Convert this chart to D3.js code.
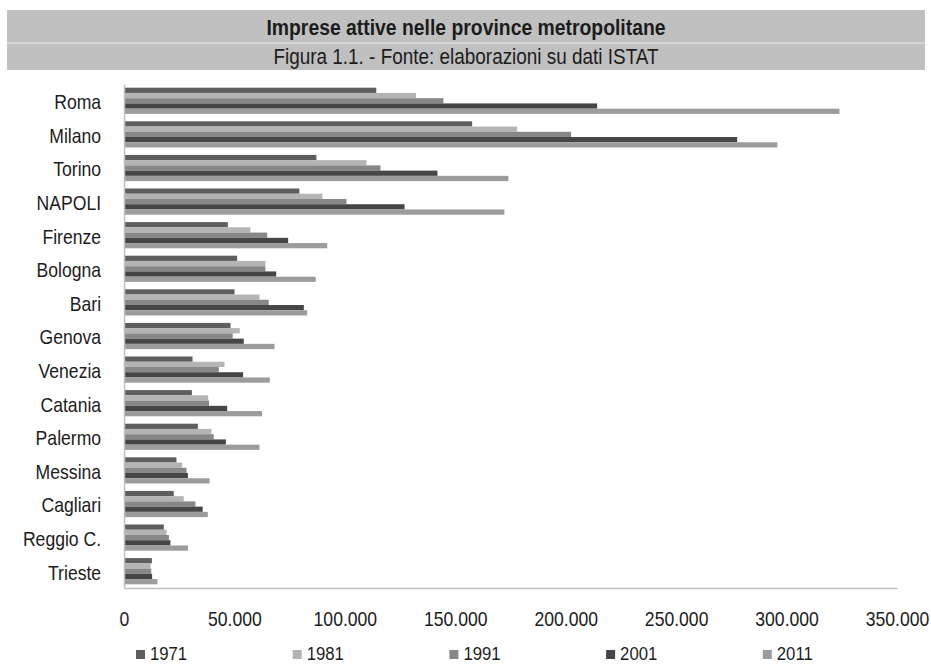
<!DOCTYPE html>
<html>
<head>
<meta charset="utf-8">
<script src="https://cdn.jsdelivr.net/npm/d3@7"></script>
<style>
html,body{margin:0;padding:0;background:#fff;}
svg text{font-family:"Liberation Sans",Arial,sans-serif;fill:#1c1c1c;}
</style>
</head>
<body>
<svg id="chart" width="931" height="664"></svg>
<script>
const categories = ["Roma","Milano","Torino","NAPOLI","Firenze","Bologna","Bari","Genova","Venezia","Catania","Palermo","Messina","Cagliari","Reggio C.","Trieste"];
const years = ["1971","1981","1991","2001","2011"];
const v1971 = [114000,157400,86900,79200,46800,51000,49800,48000,30800,30500,33200,23500,22300,17800,12400];
const v1981 = [132000,177800,109600,89600,57000,63800,61100,52200,45300,37900,39400,26100,26800,19000,11800];
const v1991 = [144400,202200,115900,100500,64600,63800,65300,49000,42700,38300,40400,28100,32100,20100,12100];
const v2001 = [214000,277400,141700,126800,74100,68700,81200,54000,53700,46500,45900,28700,35400,20800,12500];
const v2011 = [323700,295600,173800,172000,91800,86600,82700,67900,65800,62300,61100,38500,37700,28800,14900];
const xTicks = [0,50000,100000,150000,200000,250000,300000,350000];
const title = "Imprese attive nelle province metropolitane";
const subtitle = "Figura 1.1. - Fonte: elaborazioni su dati ISTAT";

const series = [v1971,v1981,v1991,v2001,v2011];
const colors = ["#5e5e5e","#b4b4b4","#878787","#464646","#9c9c9c"];
const SX = 0.88; // narrow text look

const svg = d3.select("#chart");

// header bands
svg.append("rect").attr("x",7).attr("y",10).attr("width",918).attr("height",60).attr("fill","#c0c0c0");
svg.append("line").attr("x1",7).attr("x2",925).attr("y1",43).attr("y2",43).attr("stroke","#dcdcdc").attr("stroke-width",1.5);
svg.append("g").attr("transform",`translate(466,35) scale(${SX},1)`)
  .append("text").attr("text-anchor","middle").attr("font-size",22).attr("font-weight","bold").text(title);
svg.append("g").attr("transform",`translate(466,64) scale(${SX},1)`)
  .append("text").attr("text-anchor","middle").attr("font-size",21.5).text(subtitle);

const x = d3.scaleLinear().domain([0,350000]).range([124,897]);
const y = d3.scaleBand().domain(categories).range([84,588]).paddingInner(0.22).paddingOuter(0.11);
const y1 = d3.scaleBand().domain(years).range([0,y.bandwidth()]);

const g = svg.append("g");
categories.forEach((c,i)=>{
  series.forEach((s,j)=>{
    g.append("rect")
      .attr("x",x(0)+0.5)
      .attr("y",y(c)+y1(years[j]))
      .attr("width",x(s[i])-x(0))
      .attr("height",y1.bandwidth())
      .attr("fill",colors[j]);
  });
});

// y axis
const yAxis = d3.axisLeft(y).tickSize(0).tickPadding(26);
const ya = svg.append("g").attr("transform",`translate(${x(0)},0)`).call(yAxis);
ya.select(".domain").attr("stroke","#bfbfbf").attr("stroke-width",1.5);
ya.selectAll("text").attr("font-size",20).attr("fill","#1c1c1c").attr("y",2).attr("transform",`scale(${SX},1)`);

// x axis
const fmt = d => d===0 ? "0" : d3.format(",")(d).replace(/,/g,".");
const xAxis = d3.axisBottom(x).tickValues(xTicks).tickSize(0).tickPadding(24).tickFormat(fmt);
const xa = svg.append("g").attr("transform",`translate(0,588)`).call(xAxis);
xa.select(".domain").attr("stroke","#bfbfbf").attr("stroke-width",1.5);
xa.selectAll("text").attr("font-size",20).attr("fill","#1c1c1c").attr("transform",`scale(${SX},1)`);

// legend
const legend = svg.append("g");
years.forEach((yr,j)=>{
  const lx = 136 + j*156.7;
  legend.append("rect").attr("x",lx).attr("y",650).attr("width",9).attr("height",9).attr("fill",colors[j]);
  legend.append("g").attr("transform",`translate(${lx+14},660) scale(${SX},1)`)
    .append("text").attr("font-size",19).text(yr);
});
</script>
</body>
</html>
